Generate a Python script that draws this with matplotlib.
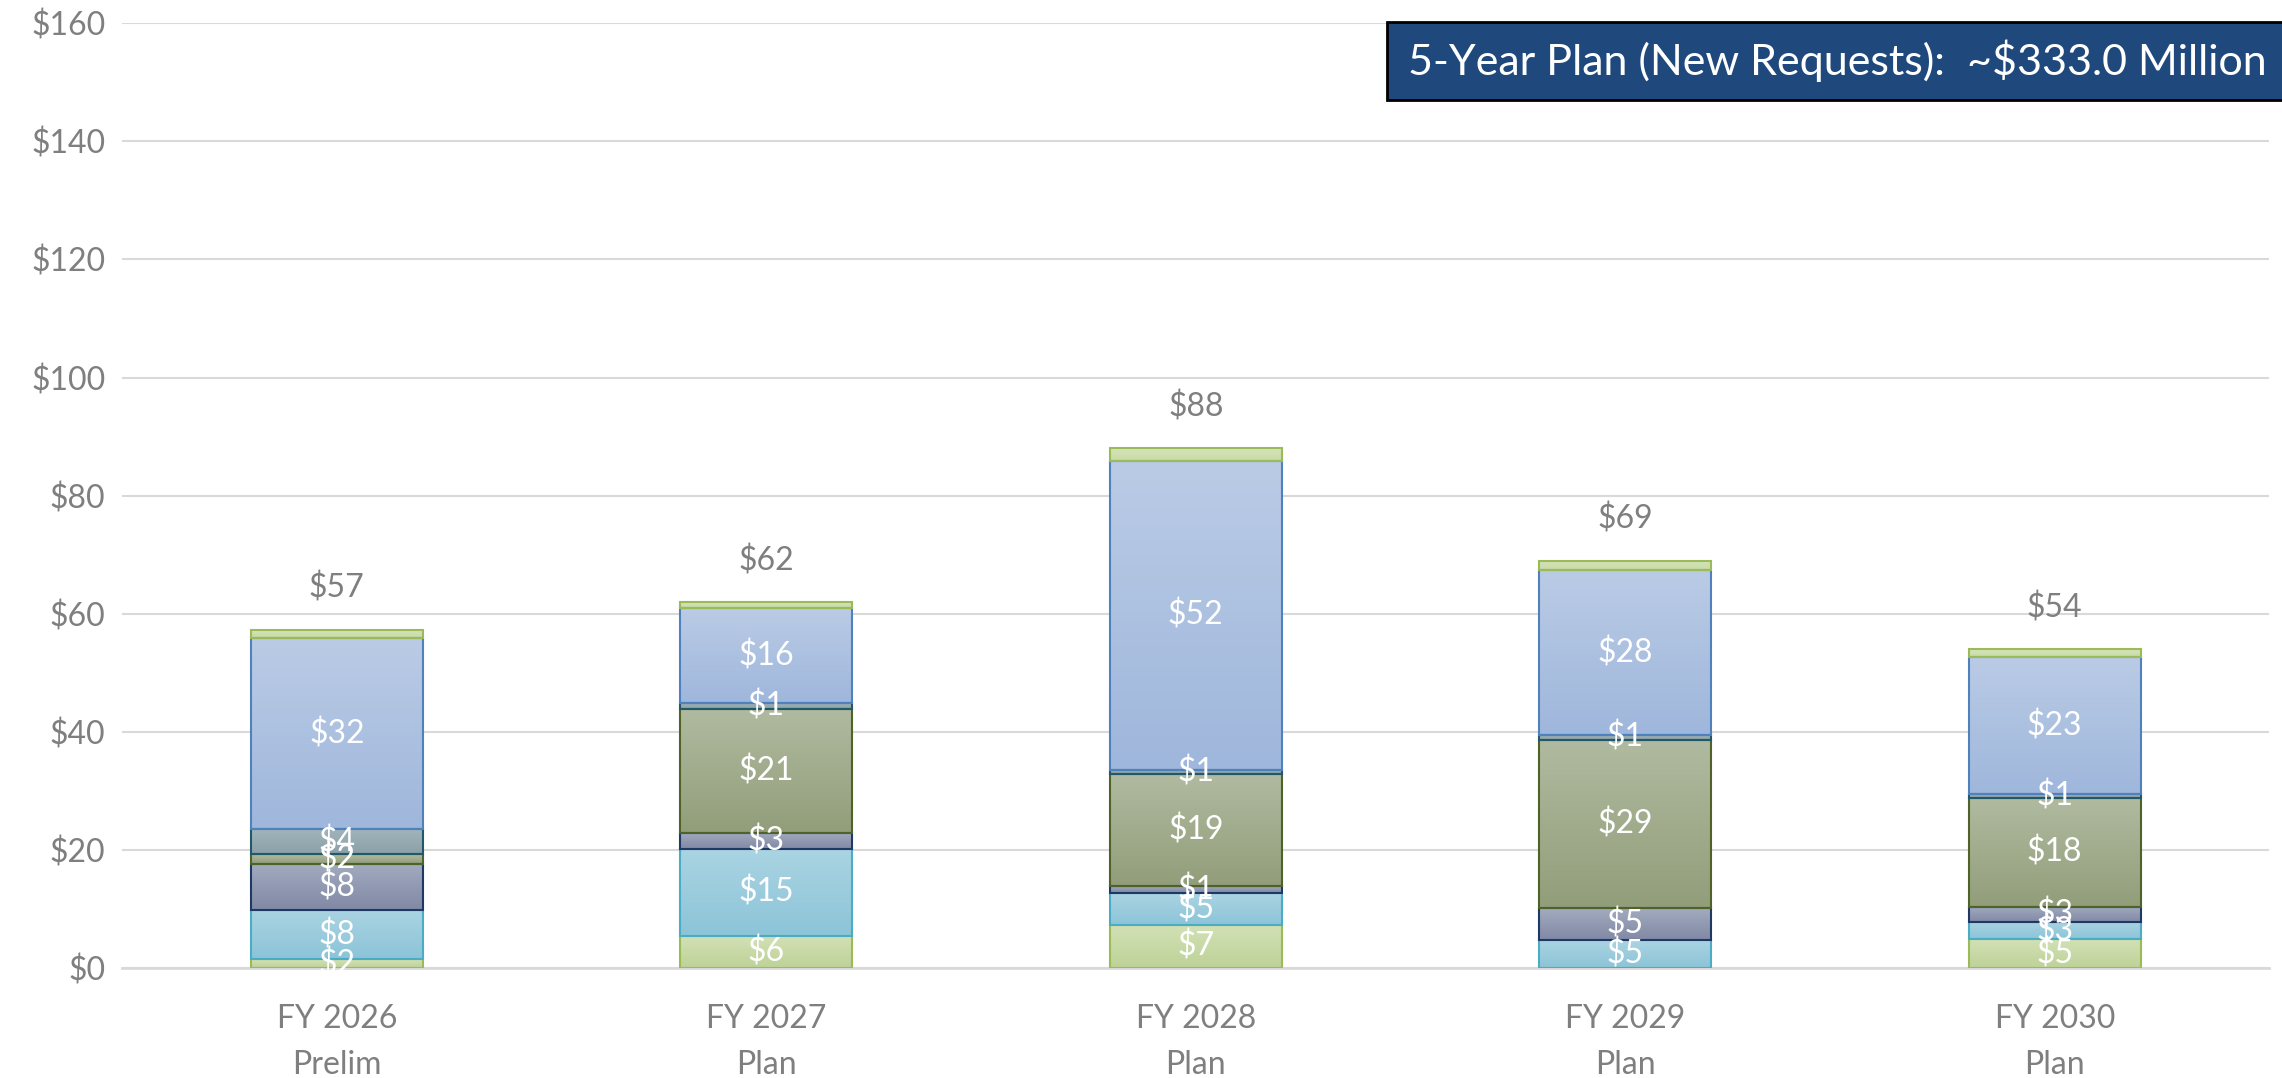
import numpy as np
import matplotlib
matplotlib.use("Agg")
import matplotlib.pyplot as plt
from matplotlib.patches import Rectangle
from matplotlib.colors import to_rgb

plt.rcParams['font.family'] = ['Lato', 'DejaVu Sans']

categories = ["FY 2026\nPrelim", "FY 2027\nPlan", "FY 2028\nPlan", "FY 2029\nPlan", "FY 2030\nPlan"]
s_green = [1.5, 5.5, 7.3, 0.0, 4.9]
s_lblue = [8.3, 14.6, 5.4, 4.7, 2.9]
s_slate = [7.9, 2.8, 1.2, 5.4, 2.6]
s_olive = [1.6, 20.9, 18.9, 28.6, 18.4]
s_teal = [4.2, 1.1, 0.8, 0.7, 0.6]
s_blue = [32.4, 16.0, 52.3, 28.0, 23.3]
s_top = [1.4, 1.1, 2.1, 1.6, 1.3]
yticks = [0, 20, 40, 60, 80, 100, 120, 140, 160]
box_text = "5-Year Plan (New Requests):  ~$333.0 Million"

series = [s_green, s_lblue, s_slate, s_olive, s_teal, s_blue, s_top]
# (top color, bottom color, edge color, show labels)
styles = [
    ("#d3e1b6", "#bdd297", "#9bbb59", True),
    ("#aad4e2", "#8cc4d8", "#4bacc6", True),
    ("#a2abbf", "#8189a5", "#1f3864", True),
    ("#b0baa0", "#929e7a", "#4f6228", True),
    ("#a2b4bb", "#8aa0a8", "#215968", True),
    ("#bacbe5", "#9fb7dc", "#4f81bd", True),
    ("#d6e4ba", "#c8dba6", "#9bbb59", False),
]

FS = 23
fig = plt.figure(figsize=(22.82, 10.78), dpi=100)
ax = fig.add_axes([0.0535, 0.102, 0.941, 0.8765])
x = np.arange(len(categories))
width = 0.4
bottom = np.zeros(len(categories))
grey = "#7f7f7f"

for vals, (ctop, cbot, edge, show) in zip(series, styles):
    vals = np.array(vals, dtype=float)
    bars = ax.bar(x, vals, width, bottom=bottom, facecolor="none", edgecolor=edge,
                  linewidth=1.5, zorder=3)
    grad = np.linspace(0, 1, 64)[:, None]
    c1 = np.array(to_rgb(ctop)); c2 = np.array(to_rgb(cbot))
    img = (c2[None, None, :] * (1 - grad[:, :, None]) + c1[None, None, :] * grad[:, :, None])
    for xi, v, b, bar in zip(x, vals, bottom, bars):
        if v <= 0:
            continue
        im = ax.imshow(img, extent=[xi - width / 2, xi + width / 2, b, b + v],
                       origin="lower", aspect="auto", zorder=2.5, interpolation="bilinear")
        im.set_clip_path(bar)
        if show:
            lbl = int(v + 0.5)
            if lbl > 0:
                ax.text(xi, b + v / 2, f"${lbl}", ha="center", va="center",
                        color="white", fontsize=FS, zorder=5)
    bottom = bottom + vals

for xi, tot in zip(x, bottom):
    ax.text(xi, tot + 7.0, f"${int(round(tot))}", ha="center", va="center",
            color=grey, fontsize=FS, zorder=5)

ax.set_xlim(-0.5, len(categories) - 0.5)
ax.set_ylim(0, 160)
ax.set_yticks(yticks)
ax.set_yticklabels([f"${t}" for t in yticks])
ax.set_xticks(x)
ax.set_xticklabels(categories, linespacing=1.65)
ax.tick_params(axis="both", length=0, colors=grey, labelsize=FS)
ax.tick_params(axis="x", pad=26)
ax.tick_params(axis="y", pad=12)
for sp in ["top", "right", "left"]:
    ax.spines[sp].set_visible(False)
ax.spines["bottom"].set_color("#d9d9d9")
ax.spines["bottom"].set_linewidth(2)
ax.yaxis.grid(True, color="#d9d9d9", linewidth=1.5, zorder=0)
ax.set_axisbelow(True)

rect = Rectangle((1387 / 2282, 1 - 100 / 1078), 1.0, 78 / 1078, transform=fig.transFigure,
                 facecolor="#1f497d", edgecolor="black", linewidth=2, zorder=10)
fig.patches.append(rect)
fig.text(1408 / 2282, 1 - 75 / 1078, box_text, color="white", fontsize=31,
         ha="left", va="baseline", zorder=11)

fig.savefig("out.png", dpi=100)
